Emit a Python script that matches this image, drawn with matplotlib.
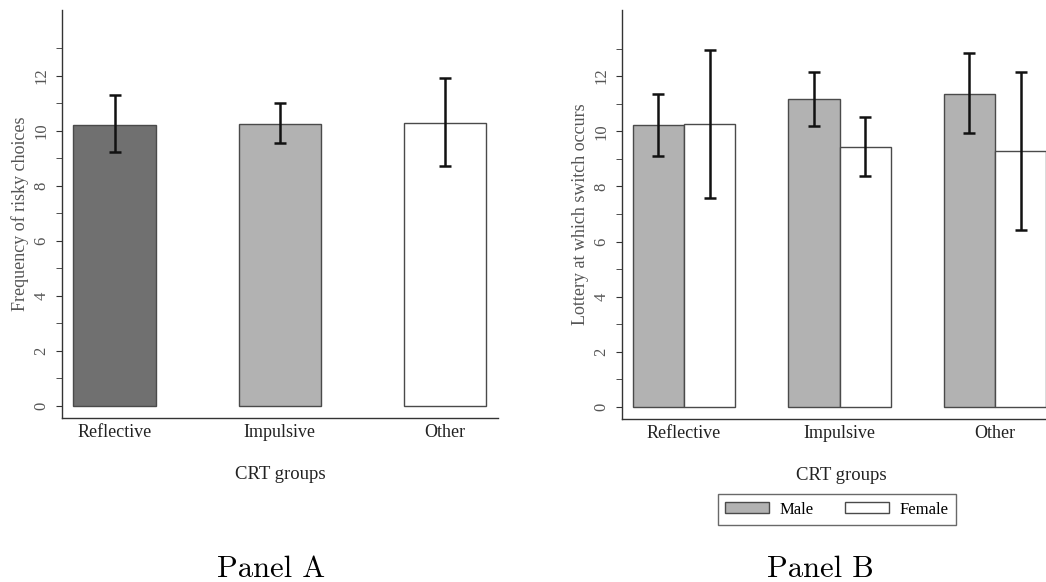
import numpy as np
import matplotlib
matplotlib.use("Agg")
import matplotlib.pyplot as plt
from matplotlib.patches import Patch

# Panel A: frequency of risky choices by CRT group
groups = ["Reflective", "Impulsive", "Other"]
risky_mean = [10.22, 10.27, 10.30]
risky_lo = [9.25, 9.55, 8.73]
risky_hi = [11.31, 11.02, 11.92]

# Panel B: switch lottery by CRT group and gender
male_mean = [10.22, 11.16, 11.37]
male_lo = [9.12, 10.20, 9.94]
male_hi = [11.36, 12.14, 12.84]
female_mean = [10.26, 9.44, 9.28]
female_lo = [7.59, 8.36, 6.40]
female_hi = [12.96, 10.52, 12.16]

serif = ["Liberation Serif", "DejaVu Serif"]
grey_txt = "#555555"
edge = "#4a4a4a"

fig = plt.figure(figsize=(10.46, 5.82), dpi=100)


def style_axis(ax, ylabel):
    ax.spines["top"].set_visible(False)
    ax.spines["right"].set_visible(False)
    for s in ("left", "bottom"):
        ax.spines[s].set_color("#333333")
        ax.spines[s].set_linewidth(1.0)
    ax.set_ylim(-0.44, 14.4)
    ax.set_yticks(np.arange(0, 13, 2))
    ax.set_yticks(np.arange(1, 15, 2), minor=True)
    ax.tick_params(axis="y", which="both", length=4, color="#333333",
                   labelcolor=grey_txt, labelsize=12, pad=5)
    for lab in ax.get_yticklabels():
        lab.set_rotation(90)
        lab.set_va("center")
        lab.set_family(serif)
    ax.tick_params(axis="x", length=0, labelsize=13, pad=4, labelcolor="#222222")
    ax.set_ylabel(ylabel, family=serif, fontsize=13, color=grey_txt, labelpad=3)
    ax.set_xlabel("CRT groups", family=serif, fontsize=13.5, color="#222222", labelpad=18)


# ---- Panel A
axA = fig.add_axes([62 / 1046, 1 - 418 / 582, 436 / 1046, 408 / 582])
xa = np.arange(len(groups))
colorsA = ["#707070", "#b2b2b2", "#ffffff"]
axA.bar(xa, risky_mean, width=0.5, color=colorsA, edgecolor=edge, linewidth=1.0, zorder=2)
errA = [np.array(risky_mean) - np.array(risky_lo), np.array(risky_hi) - np.array(risky_mean)]
axA.errorbar(xa, risky_mean, yerr=errA, fmt="none", ecolor="#111111",
             elinewidth=1.8, capsize=4, capthick=1.8, zorder=3)
axA.set_xlim(-0.318, 2.32)
axA.set_xticks(xa)
axA.set_xticklabels(groups, family=serif)
style_axis(axA, "Frequency of risky choices")

# ---- Panel B (right side runs past the figure edge, as in the source)
axB = fig.add_axes([622 / 1046, 1 - 419 / 582, 438 / 1046, 409 / 582])
xb = np.arange(len(groups))
w = 0.33
axB.bar(xb - w / 2, male_mean, width=w, color="#b2b2b2", edgecolor=edge, linewidth=1.0, zorder=2)
axB.bar(xb + w / 2, female_mean, width=w, color="#ffffff", edgecolor=edge, linewidth=1.0, zorder=2)
errM = [np.array(male_mean) - np.array(male_lo), np.array(male_hi) - np.array(male_mean)]
errF = [np.array(female_mean) - np.array(female_lo), np.array(female_hi) - np.array(female_mean)]
axB.errorbar(xb - w / 2, male_mean, yerr=errM, fmt="none", ecolor="#111111",
             elinewidth=1.8, capsize=4, capthick=1.8, zorder=3)
axB.errorbar(xb + w / 2, female_mean, yerr=errF, fmt="none", ecolor="#111111",
             elinewidth=1.8, capsize=4, capthick=1.8, zorder=3)
axB.set_xlim(-0.399, 2.418)
axB.set_xticks(xb)
axB.set_xticklabels(groups, family=serif)
style_axis(axB, "Lottery at which switch occurs")

handles = [Patch(facecolor="#b2b2b2", edgecolor=edge, label="Male"),
           Patch(facecolor="#ffffff", edgecolor=edge, label="Female")]
fig.legend(handles=handles, loc="center", bbox_to_anchor=(837 / 1046, 1 - 509.5 / 582),
           ncol=2, frameon=True, fancybox=False, edgecolor="#444444",
           prop={"family": serif, "size": 12}, handlelength=2.6, handleheight=0.66,
           columnspacing=1.9, borderpad=0.45, borderaxespad=0, handletextpad=0.66)

fig.text(271 / 1046, 1 - 577 / 582, "Panel A", ha="center", va="baseline",
         family=["cmr10", "DejaVu Serif"], fontsize=22)
fig.text(820 / 1046, 1 - 577 / 582, "Panel B", ha="center", va="baseline",
         family=["cmr10", "DejaVu Serif"], fontsize=22)

fig.savefig("out.png", dpi=100)
